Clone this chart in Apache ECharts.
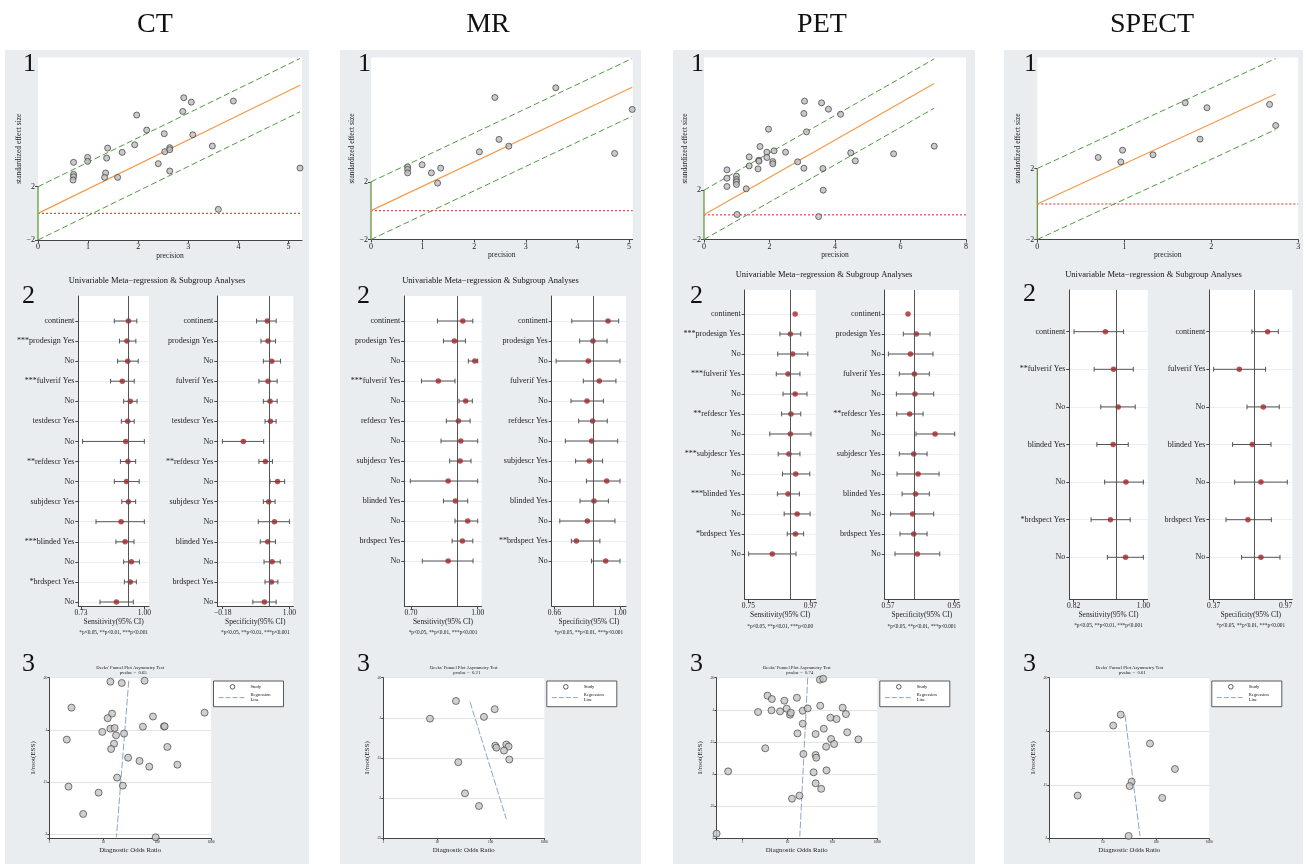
<!DOCTYPE html>
<html><head><meta charset="utf-8">
<script src="https://cdn.jsdelivr.net/npm/echarts@6/dist/echarts.min.js"></script>
<style>
html,body{margin:0;padding:0;background:#fff;}
#wrap{position:relative;width:1306px;height:864px;overflow:hidden;background:#fff;}
.bg{position:absolute;background:#e9edf0;}
#chart{position:absolute;left:0;top:0;width:1306px;height:864px;}
</style></head><body>
<div id="wrap">
<div class="bg" style="left:5px;top:50px;width:304px;height:814px"></div>
<div class="bg" style="left:340px;top:50px;width:301px;height:814px"></div>
<div class="bg" style="left:673px;top:50px;width:302px;height:814px"></div>
<div class="bg" style="left:1004px;top:50px;width:299px;height:814px"></div>
<div id="chart"></div>
</div>
<script>
// ---------------- DATA ----------------
const modalities = ['CT', 'MR', 'PET', 'SPECT'];

// Panel 1: Galbraith (radial) plots
const ctPrecision = [0.71,0.71,0.71,0.70,0.99,0.99,1.39,1.37,1.35,1.33,1.59,1.68,1.93,1.97,2.17,2.40,2.52,2.53,2.63,2.63,2.63,2.89,2.91,3.06,3.09,3.48,3.90,3.60,5.23];
const ctEffect    = [3.83,2.93,2.75,2.50,4.20,3.90,4.90,4.15,3.03,2.70,2.70,4.58,5.15,7.38,6.25,3.73,5.98,4.63,4.93,4.78,3.18,7.65,8.68,8.35,5.90,5.05,8.43,0.30,3.40];
const mrPrecision = [0.71,0.71,0.71,0.99,1.17,1.35,1.29,2.10,2.40,2.48,2.67,3.58,4.72,5.06];
const mrEffect    = [3.04,2.86,2.62,3.18,2.62,2.95,1.91,4.08,7.85,4.94,4.47,8.52,3.97,7.02];
const petPrecision = [0.70,0.70,0.70,0.99,0.99,0.99,0.99,1.01,1.29,1.38,1.38,1.65,1.67,1.68,1.71,1.92,1.92,1.97,2.10,2.10,2.14,2.49,2.86,3.05,3.05,3.07,3.13,3.50,3.59,3.63,3.64,3.80,4.17,4.48,4.62,5.79,7.03];
const petEffect    = [3.65,2.97,2.30,3.14,2.86,2.68,2.46,0.03,2.11,4.70,3.97,3.73,4.43,4.35,5.54,5.08,4.65,6.95,4.32,4.14,5.19,5.08,4.30,3.78,8.22,9.22,6.73,-0.14,9.08,3.76,2.00,8.57,8.16,5.03,4.38,4.95,5.57];
const spectPrecision = [0.70,0.98,0.96,1.33,1.70,1.87,1.95,2.67,2.74];
const spectEffect    = [2.62,3.03,2.37,2.77,5.70,3.65,5.42,5.61,4.42];
const radialSlope = [1.84, 1.69, 1.515, 2.26];
const galbraithBand = 2;
const radialXTicks = [[0,1,2,3,4,5],[0,1,2,3,4,5],[0,2,4,6,8],[0,1,2,3]];

// Panel 2: univariable meta-regression (forest) plots
const ctSensLabels = ['continent','***prodesign Yes','No','***fulverif Yes','No','testdescr Yes','No','**refdescr Yes','No','subjdescr Yes','No','***blinded Yes','No','*brdspect Yes','No'];
const ctSensEst = [0.932,0.926,0.929,0.906,0.940,0.929,0.921,0.930,0.924,0.932,0.901,0.918,0.945,0.940,0.881];
const ctSensLo  = [0.872,0.894,0.886,0.856,0.912,0.902,0.737,0.898,0.872,0.904,0.794,0.879,0.912,0.915,0.811];
const ctSensHi  = [0.968,0.964,0.974,0.957,0.969,0.957,1.000,0.963,0.978,0.963,1.000,0.956,0.979,0.966,0.953];
const ctSpecLabels = ['continent','prodesign Yes','No','fulverif Yes','No','testdescr Yes','No','**refdescr Yes','No','subjdescr Yes','No','blinded Yes','No','brdspect Yes','No'];
const ctSpecEst = [0.610,0.622,0.688,0.622,0.658,0.664,0.185,0.575,0.790,0.634,0.736,0.616,0.694,0.682,0.557];
const ctSpecLo  = [0.419,0.497,0.539,0.461,0.539,0.569,-0.186,0.461,0.658,0.539,0.449,0.485,0.551,0.569,0.353];
const ctSpecHi  = [0.766,0.754,0.844,0.784,0.784,0.766,0.545,0.700,0.916,0.748,1.000,0.754,0.838,0.796,0.766];

const mrSensLabels = ['continent','prodesign Yes','No','***fulverif Yes','No','refdescr Yes','No','subjdescr Yes','No','blinded Yes','No','brdspect Yes','No'];
const mrSensEst = [0.933,0.895,0.987,0.823,0.946,0.913,0.924,0.921,0.867,0.900,0.955,0.931,0.867];
const mrSensLo  = [0.819,0.846,0.958,0.747,0.916,0.859,0.835,0.874,0.697,0.846,0.898,0.885,0.751];
const mrSensHi  = [0.978,0.945,1.000,0.898,0.976,0.966,1.000,0.970,1.000,0.955,1.000,0.978,0.979];
const mrSpecLabels = ['continent','prodesign Yes','No','fulverif Yes','No','refdescr Yes','No','subjdescr Yes','No','blinded Yes','No','**brdspect Yes','No'];
const mrSpecEst = [0.938,0.860,0.836,0.893,0.829,0.858,0.853,0.841,0.931,0.865,0.831,0.774,0.926];
const mrSpecLo  = [0.750,0.791,0.669,0.810,0.746,0.786,0.717,0.770,0.826,0.793,0.688,0.748,0.852];
const mrSpecHi  = [0.993,0.933,1.000,0.979,0.914,0.934,0.988,0.910,1.000,0.940,0.974,0.896,1.000];

const petSensLabels = ['continent','***prodesign Yes','No','***fulverif Yes','No','**refdescr Yes','No','***subjdescr Yes','No','***blinded Yes','No','*brdspect Yes','No'];
const petSensEst = [0.916,0.899,0.907,0.891,0.916,0.901,0.899,0.894,0.918,0.891,0.923,0.917,0.835];
const petSensLo  = [null,0.862,0.854,0.849,0.873,0.868,0.826,0.856,0.871,0.853,0.877,0.888,0.751];
const petSensHi  = [null,0.936,0.961,0.933,0.958,0.936,0.972,0.933,0.968,0.931,0.969,0.946,0.919];
const petSpecLabels = ['continent','prodesign Yes','No','fulverif Yes','No','**refdescr Yes','No','subjdescr Yes','No','blinded Yes','No','brdspect Yes','No'];
const petSpecEst = [0.685,0.733,0.699,0.722,0.725,0.695,0.841,0.718,0.743,0.729,0.712,0.718,0.739];
const petSpecLo  = [null,0.658,0.572,0.635,0.618,0.620,0.731,0.635,0.622,0.651,0.585,0.639,0.610];
const petSpecHi  = [null,0.812,0.829,0.808,0.833,0.772,0.954,0.795,0.864,0.808,0.833,0.795,0.868];

const spectSensLabels = ['continent','**fulverif Yes','No','blinded Yes','No','*brdspect Yes','No'];
const spectSensEst = [0.902,0.923,0.935,0.922,0.955,0.915,0.954];
const spectSensLo  = [0.821,0.873,0.890,0.880,0.900,0.865,0.907];
const spectSensHi  = [0.949,0.974,0.979,0.961,1.000,0.966,1.000];
const spectSpecLabels = ['continent','fulverif Yes','No','blinded Yes','No','brdspect Yes','No'];
const spectSpecEst = [0.820,0.584,0.784,0.692,0.764,0.656,0.764];
const spectSpecLo  = [0.689,0.370,0.648,0.528,0.545,0.473,0.603];
const spectSpecHi  = [0.909,0.803,0.917,0.848,0.984,0.851,0.923];

const pooledSens = [0.930, 0.914, 0.903, 0.928];
const pooledSpec = [0.646, 0.857, 0.724, 0.709];
const sensTicks = [[0.73,1.00],[0.70,1.00],[0.75,0.97],[0.82,1.00]];
const specTicks = [[-0.18,1.00],[0.66,1.00],[0.57,0.95],[0.37,0.97]];
const sensNotes = ['*p<0.05, **p<0.01, ***p<0.001','*p<0.05, **p<0.01, ***p<0.001','*p<0.05, **p<0.01, ***p<0.00','*p<0.05, **p<0.01, ***p<0.001'];
const specNotes = ['*p<0.05, **p<0.01, ***p<0.001','*p<0.05, **p<0.01, ***p<0.001','*p<0.05, **p<0.01, ***p<0.001','*p<0.05, **p<0.01, ***p<0.001'];

// Panel 3: Deeks' funnel plots
const ctDor    = [13.6,22.1,58.5,2.58,14.6,12.1,83.9,760,13.6,16.3,54.5,134,138,9.62,17.3,24.4,2.11,15.9,14.0,155,29.0,47.2,71.6,238,18.1,2.27,23.1,8.22,4.25,94];
const ctInvEss = [.0538,.0551,.0529,.0787,.0844,.0888,.0872,.0835,.0988,.0982,.0969,.0966,.0966,.1019,.1052,.1035,.1093,.1132,.1183,.1163,.1266,.1297,.1352,.1333,.1457,.1543,.1534,.1601,.1805,.2028];
const ctRegDor = [29.8, 17.6];
const ctRegInvEss = [.0529, .2028];
const mrDor    = [22.6,7.41,75.1,119,122,128,196,216,177,223,25.0,33.3,60.7,122];
const mrInvEss = [.079,.101,.0988,.0892,.1346,.1371,.1332,.1357,.1407,.1519,.1552,.194,.2098,.2768];
const mrRegDor = [41.2, 196];
const mrRegInvEss = [.0799, .226];
const petDor    = [0.264,0.477,2.21,3.2,3.6,4.49,4.41,6.84,8.51,9.59,11.4,11.9,16.2,16.7,12.6,18.5,21.9,21.9,22.6,28.2,42.3,43.7,38.2,42.3,42.3,52.7,62.4,53.6,56.3,64.4,72.6,73.8,90.4,93.5,109,124,169,200,214,379];
const petInvEss = [.2927,.1958,.1034,.1599,.078,.0832,.1008,.1024,.0858,.0982,.1076,.1045,.0812,.1367,.2383,.2336,.1014,.1216,.1688,.0978,.1703,.1745,.1973,.2144,.1377,.0531,.0516,.0936,.223,.1294,.1574,.1942,.1122,.1454,.1532,.1143,.0967,.1066,.135,.146];
const petRegDor = [28.2, 18.8];
const petRegInvEss = [.05, .2974];
const spectDor    = [21.8,15.8,77.2,227,35,32.1,3.4,131,30.7];
const spectInvEss = [.0845,.0947,.1115,.1353,.1471,.1512,.1601,.1623,.1978];
const spectRegDor = [26.2, 50.1];
const spectRegInvEss = [.0848, .1978];
const deeksP = ['0.65', '0.21', '0.74', '0.61'];

// ---------------- LAYOUT ----------------
const FONT = '"Liberation Serif","Times New Roman",serif';
const L = {
  titleX: [155, 488, 822, 1152],
  panelCX: [157, 490.5, 824, 1153.5],
  numX: [22, 357, 690, 1023],
  num2Y: [296, 296, 296, 294],
  radialGrid: [[38,57.5,264,182.5],[371,57.5,261.7,182],[704,57.5,262,182],[1037.3,57.5,261,182]],
  radialYMax: [11.7, 10.62, 12.76, 8.25],
  radialXMax: [5.27, 5.07, 8, 3],
  forestTitleY: [281, 281, 274.5, 275],
  forestLeft: [[78.3,296,70.7,310],[404.3,296,77.4,310],[744.7,290,71,309.3],[1069.3,290,78.4,309]],
  forestRight: [[217.3,296,76,310],[551.7,296,74.3,310],[884.7,290,74.3,309.3],[1209.3,290,83,309]],
  forestYRange: [[-1.246,14.2],[-1.25,14.25],[-1.2,14.27],[-1.109,7.109]],
  sensRange: [[0.7186,1.0199],[0.670,1.018],[0.737,0.9889],[0.8088,1.0112]],
  specRange: [[-0.2758,1.0695],[0.6462,1.0311],[0.5508,0.9788],[0.3339,1.0256]],
  funnelGrid: [[49.3,677.7,161.7,160.6],[383.3,677.7,161,160.6],[716.3,677.7,161,160.6],[1049.3,677.7,160,160.6]],
  funnelYMax: [0.2038, 0.25, 0.30, 0.20],
  funnelXMin: [1, 1, 0.26, 1]
};

const radialPrecision = [ctPrecision, mrPrecision, petPrecision, spectPrecision];
const radialEffect = [ctEffect, mrEffect, petEffect, spectEffect];
const sensSets = [
  [ctSensLabels, ctSensEst, ctSensLo, ctSensHi],
  [mrSensLabels, mrSensEst, mrSensLo, mrSensHi],
  [petSensLabels, petSensEst, petSensLo, petSensHi],
  [spectSensLabels, spectSensEst, spectSensLo, spectSensHi]];
const specSets = [
  [ctSpecLabels, ctSpecEst, ctSpecLo, ctSpecHi],
  [mrSpecLabels, mrSpecEst, mrSpecLo, mrSpecHi],
  [petSpecLabels, petSpecEst, petSpecLo, petSpecHi],
  [spectSpecLabels, spectSpecEst, spectSpecLo, spectSpecHi]];
const funnelSets = [
  [ctDor, ctInvEss, ctRegDor, ctRegInvEss],
  [mrDor, mrInvEss, mrRegDor, mrRegInvEss],
  [petDor, petInvEss, petRegDor, petRegInvEss],
  [spectDor, spectInvEss, spectRegDor, spectRegInvEss]];

// ---------------- BUILD ----------------
const fmtMinus = s => String(s).replace('-', '\u2212');
const grids = [], xAxes = [], yAxes = [], series = [], graphics = [];
const TXT = '#1a1a1a', AX = '#444';

function addGrid(r) {
  grids.push({left: r[0], top: r[1], width: r[2], height: r[3], show: true,
    backgroundColor: '#fff', borderWidth: 0, containLabel: false, outerBoundsMode: 'none'});
  return grids.length - 1;
}
function txt(x, y, text, size, align, vAlign, rot) {
  graphics.push({type: 'text', x: x, y: y, rotation: rot || 0, silent: true, z: 50,
    style: {text: text, font: size + 'px ' + FONT, fill: '#111',
      align: align || 'center', verticalAlign: vAlign || 'middle'}});
}
function lineS(xi, yi, data, color, type, width) {
  return {type: 'line', xAxisIndex: xi, yAxisIndex: yi, data: data, symbol: 'none', silent: true,
    lineStyle: {color: color, type: type, width: width}, z: 3};
}
function errRender(params, api) {
  const lo = api.value(0), hi = api.value(1), row = api.value(2);
  const p1 = api.coord([lo, row]), p2 = api.coord([hi, row]);
  const cap = 2.4;
  const st = {stroke: '#555', lineWidth: 1, fill: null};
  return {type: 'group', children: [
    {type: 'line', shape: {x1: p1[0], y1: p1[1], x2: p2[0], y2: p2[1]}, style: st},
    {type: 'line', shape: {x1: p1[0], y1: p1[1] - cap, x2: p1[0], y2: p1[1] + cap}, style: st},
    {type: 'line', shape: {x1: p2[0], y1: p2[1] - cap, x2: p2[0], y2: p2[1] + cap}, style: st}
  ]};
}

function addForest(c, rect, xr, ticks, set, pooled, name, note) {
  const gi = addGrid(rect);
  const labels = set[0], est = set[1], lo = set[2], hi = set[3];
  const rows = labels.map((_, i) => i);
  const yr = L.forestYRange[c];
  xAxes.push({gridIndex: gi, type: 'value', min: xr[0], max: xr[1],
    axisLine: {show: true, onZero: false, lineStyle: {color: AX, width: 1}},
    axisTick: {show: true, length: 3, customValues: ticks, lineStyle: {color: AX}},
    axisLabel: {customValues: ticks, fontFamily: FONT, fontSize: 7.5, color: TXT, margin: 3,
      formatter: v => fmtMinus(Number(v).toFixed(2))},
    splitLine: {show: false},
    name: name, nameLocation: 'middle', nameGap: 12,
    nameTextStyle: {fontFamily: FONT, fontSize: 7.5, color: TXT}});
  yAxes.push({gridIndex: gi, type: 'value', inverse: true, min: yr[0], max: yr[1],
    axisLine: {show: true, onZero: false, lineStyle: {color: AX, width: 1}},
    axisTick: {show: true, length: 3, customValues: rows, lineStyle: {color: AX}},
    axisLabel: {customValues: rows, fontFamily: FONT, fontSize: 8, color: TXT, margin: 4,
      formatter: v => labels[Math.round(v)] || ''},
    splitLine: {show: true, lineStyle: {color: '#eceff2', width: 1}}});
  const xi = xAxes.length - 1, yi = yAxes.length - 1;
  const errData = [];
  rows.forEach(i => { if (lo[i] != null && hi[i] != null) errData.push([lo[i], hi[i], i]); });
  series.push({type: 'custom', xAxisIndex: xi, yAxisIndex: yi, data: errData,
    encode: {x: [0, 1], y: 2}, renderItem: errRender, silent: true, z: 3});
  series.push({type: 'scatter', xAxisIndex: xi, yAxisIndex: yi, silent: true, z: 4,
    data: rows.map(i => [est[i], i]), symbolSize: 5.5,
    itemStyle: {color: '#a3272b', borderWidth: 0},
    markLine: {symbol: 'none', silent: true, label: {show: false},
      lineStyle: {color: '#555', type: 'solid', width: 1},
      data: [{xAxis: pooled}]}});
  txt(rect[0] + rect[2] / 2, rect[1] + rect[3] + 27, note, 5.3);
}

for (let c = 0; c < 4; c++) {
  // headings
  txt(L.titleX[c], 25, modalities[c], 28);
  txt(L.numX[c] + 1, 64, '1', 26, 'left');
  txt(L.numX[c], L.num2Y[c], '2', 26, 'left');
  txt(L.numX[c], 664, '3', 26, 'left');

  // ---- panel 1: radial plot
  {
    const gi = addGrid(L.radialGrid[c]);
    xAxes.push({gridIndex: gi, type: 'value', min: 0, max: L.radialXMax[c],
      axisLine: {show: true, onZero: false, lineStyle: {color: AX, width: 1}},
      axisTick: {show: true, length: 3, customValues: radialXTicks[c], lineStyle: {color: AX}},
      axisLabel: {customValues: radialXTicks[c], fontFamily: FONT, fontSize: 8, color: TXT, margin: 3,
        formatter: v => fmtMinus(Math.round(v))},
      splitLine: {show: false},
      name: 'precision', nameLocation: 'middle', nameGap: 12,
      nameTextStyle: {fontFamily: FONT, fontSize: 7.5, color: TXT}});
    yAxes.push({gridIndex: gi, type: 'value', min: -galbraithBand, max: L.radialYMax[c],
      axisLine: {show: false, onZero: false},
      axisTick: {show: true, length: 3, customValues: [-galbraithBand, galbraithBand], lineStyle: {color: AX}},
      axisLabel: {customValues: [-galbraithBand, galbraithBand], fontFamily: FONT, fontSize: 8, color: TXT, margin: 3,
        formatter: v => fmtMinus(Math.round(v))},
      splitLine: {show: false},
      name: 'standardized effect size', nameLocation: 'middle', nameGap: 13, nameRotate: 90,
      nameTextStyle: {fontFamily: FONT, fontSize: 7.5, color: TXT}});
    const xi = xAxes.length - 1, yi = yAxes.length - 1;
    const px = radialPrecision[c], ey = radialEffect[c], k = radialSlope[c];
    const xEnd = Math.max.apply(null, px);
    series.push(lineS(xi, yi, [[0, -galbraithBand], [0, galbraithBand]], '#5e8f31', 'solid', 1.2));
    series.push(lineS(xi, yi, [[0, 0], [L.radialXMax[c], 0]], '#e3473f', [2, 2], 1.2));
    series.push(lineS(xi, yi, [[0, galbraithBand], [xEnd, k * xEnd + galbraithBand]], '#4f9b3f', [6, 3], 1));
    series.push(lineS(xi, yi, [[0, -galbraithBand], [xEnd, k * xEnd - galbraithBand]], '#4f9b3f', [6, 3], 1));
    series.push(lineS(xi, yi, [[0, 0], [xEnd, k * xEnd]], '#f39a4c', 'solid', 1.2));
    series.push({type: 'scatter', xAxisIndex: xi, yAxisIndex: yi, silent: true, z: 5,
      data: px.map((x, i) => [x, ey[i]]), symbolSize: 6,
      itemStyle: {color: '#bdbdbd', borderColor: '#3a3a3a', borderWidth: 0.9}});
  }

  // ---- panel 2: forest plots
  txt(L.panelCX[c], L.forestTitleY[c], 'Univariable Meta\u2212regression & Subgroup Analyses', 8.5);
  addForest(c, L.forestLeft[c], L.sensRange[c], sensTicks[c], sensSets[c], pooledSens[c], 'Sensitivity(95% CI)', sensNotes[c]);
  addForest(c, L.forestRight[c], L.specRange[c], specTicks[c], specSets[c], pooledSpec[c], 'Specificity(95% CI)', specNotes[c]);

  // ---- panel 3: Deeks funnel plot
  {
    const r = L.funnelGrid[c];
    const gi = addGrid(r);
    xAxes.push({gridIndex: gi, type: 'log', logBase: 10, min: L.funnelXMin[c], max: 1000,
      axisLine: {show: true, onZero: false, lineStyle: {color: AX, width: 1}},
      axisTick: {show: true, length: 2, lineStyle: {color: AX}},
      axisLabel: {fontFamily: FONT, fontSize: 3.5, color: TXT, margin: 2,
        formatter: v => { const l = Math.log10(v); return Math.abs(l - Math.round(l)) < 1e-6 ? String(Math.round(v)) : ''; }},
      splitLine: {show: false},
      name: 'Diagnostic Odds Ratio', nameLocation: 'middle', nameGap: 8.5,
      nameTextStyle: {fontFamily: FONT, fontSize: 6.8, color: TXT}});
    yAxes.push({gridIndex: gi, type: 'value', inverse: true, min: 0.05, max: L.funnelYMax[c], interval: 0.05,
      axisLine: {show: true, onZero: false, lineStyle: {color: AX, width: 1}},
      axisTick: {show: true, length: 2, lineStyle: {color: AX}},
      axisLabel: {fontFamily: FONT, fontSize: 3.5, color: TXT, margin: 2,
        formatter: v => { const q = v / 0.05; if (Math.abs(q - Math.round(q)) > 1e-6) return ''; return String(Math.round(v * 100) / 100).replace(/^0\./, '.'); }},
      splitLine: {show: true, lineStyle: {color: '#e4e4e4', width: 1}},
      name: '1/root(ESS)', nameLocation: 'middle', nameGap: 12.5, nameRotate: 90,
      nameTextStyle: {fontFamily: FONT, fontSize: 7, color: TXT}});
    const xi = xAxes.length - 1, yi = yAxes.length - 1;
    const fs = funnelSets[c];
    series.push(lineS(xi, yi, [[fs[2][0], fs[3][0]], [fs[2][1], fs[3][1]]], '#8ea4c9', [7, 2], 1));
    series.push({type: 'scatter', xAxisIndex: xi, yAxisIndex: yi, silent: true, z: 5,
      data: fs[0].map((d, i) => [d, fs[1][i]]), symbolSize: 7,
      itemStyle: {color: '#c4c4c4', borderColor: '#333', borderWidth: 0.8}});
    // title
    const cx = r[0] + r[2] / 2;
    txt(cx, 667.6, "Deeks' Funnel Plot Asymmetry Test", 4.7);
    txt(cx + 3, 672.6, 'pvalue =  ' + deeksP[c], 4.7);
    // legend box
    const lx = r[0] + r[2] + 2.5, ly = 681;
    graphics.push({type: 'rect', silent: true, z: 40, shape: {x: lx, y: ly, width: 70, height: 25.7},
      style: {fill: '#fff', stroke: '#333', lineWidth: 0.8}});
    graphics.push({type: 'circle', silent: true, z: 41, shape: {cx: lx + 19, cy: ly + 5.8, r: 2.3},
      style: {fill: '#fff', stroke: '#333', lineWidth: 0.8}});
    graphics.push({type: 'line', silent: true, z: 41, shape: {x1: lx + 5, y1: ly + 16.6, x2: lx + 32, y2: ly + 16.6},
      style: {stroke: '#8ea4c9', lineWidth: 1, lineDash: [5, 2]}});
    txt(lx + 37, ly + 5.8, 'Study', 4.5, 'left');
    txt(lx + 37, ly + 14, 'Regression', 4.5, 'left');
    txt(lx + 37, ly + 19, 'Line', 4.5, 'left');
  }
}

const chart = echarts.init(document.getElementById('chart'), null, {renderer: 'canvas'});
chart.setOption({
  animation: false,
  backgroundColor: 'transparent',
  textStyle: {fontFamily: FONT},
  grid: grids, xAxis: xAxes, yAxis: yAxes, series: series, graphic: graphics
});
</script>
</body></html>
